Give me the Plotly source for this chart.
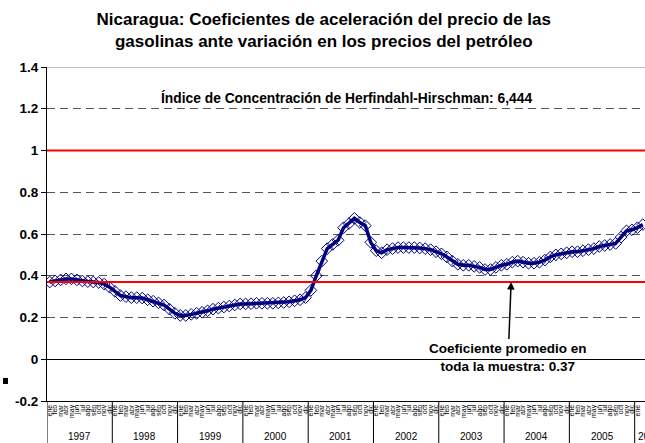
"""
Nicaragua: coeficientes de aceleración del precio de las gasolinas
Serie mensual 1997-2006 con línea de promedio y umbral 1
"""

import plotly.graph_objects as go

# ── Datos ──────────────────────────────────────────────
anios = [1997, 1998, 1999, 2000, 2001, 2002, 2003, 2004, 2005, 2006]
meses = ["ene", "feb", "mar", "abr", "may", "jun", "jul", "ago", "sep", "oct", "nov", "dic"]

coeficientes = [
    # 1997
    0.370, 0.375, 0.380, 0.385, 0.385, 0.380, 0.375, 0.372, 0.370, 0.368, 0.360, 0.345,
    # 1998
    0.325, 0.305, 0.300, 0.295, 0.295, 0.293, 0.285, 0.278, 0.270, 0.260, 0.240, 0.220,
    # 1999
    0.210, 0.210, 0.215, 0.220, 0.225, 0.232, 0.240, 0.245, 0.250, 0.255, 0.260, 0.265,
    # 2000
    0.265, 0.266, 0.268, 0.268, 0.268, 0.268, 0.270, 0.272, 0.275, 0.280, 0.285, 0.295,
    # 2001
    0.330, 0.400, 0.470, 0.530, 0.550, 0.570, 0.630, 0.650, 0.675, 0.655, 0.640, 0.560,
    # 2002
    0.520, 0.510, 0.525, 0.530, 0.535, 0.535, 0.535, 0.535, 0.533, 0.530, 0.525, 0.515,
    # 2003
    0.505, 0.490, 0.470, 0.455, 0.450, 0.450, 0.445, 0.440, 0.430, 0.430, 0.440, 0.450,
    # 2004
    0.455, 0.465, 0.470, 0.465, 0.460, 0.460, 0.465, 0.475, 0.490, 0.500, 0.505, 0.510,
    # 2005
    0.515, 0.515, 0.520, 0.525, 0.530, 0.540, 0.545, 0.550, 0.555, 0.585, 0.615, 0.620,
    # 2006
    0.630, 0.645,
]

promedio = 0.37
umbral = 1.0
indice_hh = "6,444"

y_ticks = [-0.2, 0, 0.2, 0.4, 0.6, 0.8, 1, 1.2, 1.4]
y_ticktext = ["-0.2", "0", "0.2", "0.4", "0.6", "0.8", "1", "1.2", "1.4"]

# ── Eje x: índice mensual ──────────────────────────────
n = len(coeficientes)
x_idx = list(range(n))
etiquetas_mes = [meses[i % 12] for i in x_idx]
x_rango = [-0.5, n - 0.6]
ancho_rango = x_rango[1] - x_rango[0]

FONT = "Liberation Sans, Arial, sans-serif"
NAVY = "#000080"

fig = go.Figure()
fig.add_trace(go.Scatter(
    x=x_idx,
    y=coeficientes,
    mode="lines+markers",
    line=dict(color=NAVY, width=3.5),
    marker=dict(symbol="diamond-open", size=9, color=NAVY, line=dict(width=1, color=NAVY)),
    hovertemplate="%{y:.3f}<extra></extra>",
    showlegend=False,
))

# líneas rojas: umbral y promedio
fig.add_hline(y=umbral, line=dict(color="#FF0000", width=2), layer="above")
fig.add_hline(y=promedio, line=dict(color="#FF0000", width=2), layer="above")

# borde superior gris
fig.add_hline(y=1.4, line=dict(color="#808080", width=1), layer="above")

# ── Años: separadores y etiquetas ──────────────────────
for k, anio in enumerate(anios):
    inicio = k * 12 - 0.5
    fig.add_shape(
        type="line", xref="x", yref="paper",
        x0=inicio, x1=inicio, y0=0, y1=-0.2,
        line=dict(color="black", width=1),
    )
    meses_anio = min(12, n - k * 12)
    if meses_anio == 12:
        pos, anchor = (inicio + 6 - x_rango[0]) / ancho_rango, "center"
    else:
        # año incompleto, recortado en el borde derecho
        pos, anchor = (inicio + 0.3 - x_rango[0]) / ancho_rango, "left"
    fig.add_annotation(
        x=pos, y=-0.105, xref="paper", yref="paper",
        text=str(anio), showarrow=False,
        font=dict(size=10, color="black", family=FONT),
        xanchor=anchor, yanchor="middle",
    )

fig.add_annotation(
    x=0.5, y=0.937, xref="paper", yref="paper",
    text=f"Índice de Concentración de Herfindahl-Hirschman: {indice_hh}",
    showarrow=False,
    font=dict(size=13.8, color="black", family=FONT, weight="bold"),
)

fig.add_annotation(
    x=84.8, y=promedio, xref="x", yref="y",
    text=f"Coeficiente promedio en<br>toda la muestra: {promedio}",
    showarrow=True, arrowhead=2, arrowsize=1, arrowwidth=1.5, arrowcolor="black",
    ax=-3, ay=75, standoff=0,
    font=dict(size=13.5, color="black", family=FONT, weight="bold"),
)

# marca negra a la izquierda
fig.add_shape(
    type="rect", xref="paper", yref="paper",
    x0=-0.0736, x1=-0.0652, y0=0.051, y1=0.069,
    fillcolor="black", line=dict(width=0),
)

fig.update_layout(
    width=645,
    height=443,
    title=dict(
        text="Nicaragua: Coeficientes de aceleración del precio de las<br>"
             "gasolinas ante variación en los precios del petróleo",
        font=dict(size=17, color="black", family=FONT, weight="bold"),
        x=0.502, xanchor="center", xref="container",
        y=0.944, yanchor="top", yref="container",
    ),
    margin=dict(l=47, r=0, t=67, b=42),
    paper_bgcolor="white",
    plot_bgcolor="white",
    font=dict(family=FONT, color="black"),
)

fig.update_xaxes(
    range=x_rango,
    tickmode="array",
    tickvals=x_idx,
    ticktext=etiquetas_mes,
    tickangle=-90,
    tickfont=dict(size=7, color="black"),
    ticks="",
    showgrid=False,
    zeroline=False,
    showline=True,
    linecolor="black",
    linewidth=1,
)

fig.update_yaxes(
    range=[-0.2, 1.4],
    tickmode="array",
    tickvals=y_ticks,
    ticktext=y_ticktext,
    tickfont=dict(size=13.5, color="black", weight="bold"),
    ticks="outside",
    ticklen=5,
    tickcolor="black",
    showgrid=True,
    gridcolor="#555555",
    griddash="8px,5px",
    gridwidth=1,
    zeroline=True,
    zerolinecolor="black",
    zerolinewidth=1,
    showline=True,
    linecolor="black",
    linewidth=1,
)

fig.write_html(
    "out.html",
    config={"displayModeBar": False},
    post_script="document.body.style.margin = '0';",
)
